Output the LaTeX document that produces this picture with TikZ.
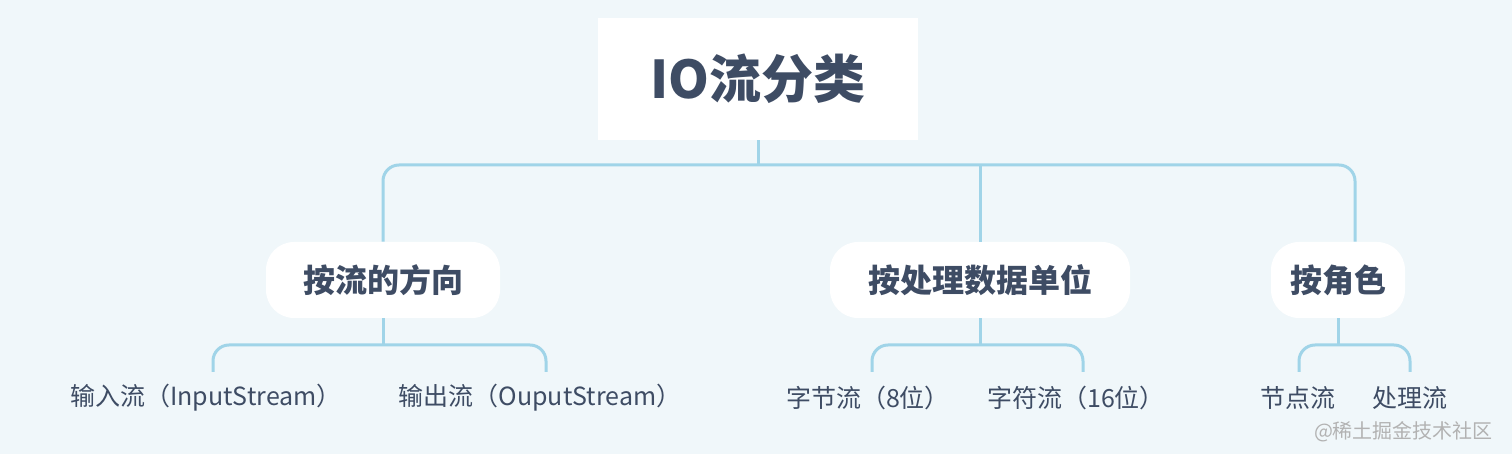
\documentclass[tikz,border=0pt]{standalone}
\usepackage{fontspec}
\setmainfont{Noto Sans CJK SC}
\begin{document}
\begin{tikzpicture}[x=0.5pt,y=-0.5pt,
  line/.style={draw=lineblue,line width=1.5pt,rounded corners=8pt},
  sline/.style={draw=lineblue,line width=1.5pt},
  root/.style={fill=white,text=txt,font=\fontsize{26}{30}\selectfont\bfseries,minimum width=160pt,minimum height=61pt},
  mid/.style={fill=white,text=txt,font=\fontsize{16}{20}\selectfont\bfseries,minimum height=38pt,rounded corners=14pt},
  leaf/.style={text=txt,font=\fontsize{12.5}{15}\selectfont,inner sep=1pt}]
\definecolor{bg}{RGB}{240,247,250}
\definecolor{lineblue}{RGB}{160,212,232}
\definecolor{txt}{RGB}{62,76,100}
\fill[bg] (0,0) rectangle (1512,454);
\useasboundingbox (0,0) rectangle (1512,454);
\node[root] (r) at (758,79) {IO流分类};
\node[mid,minimum width=117pt] (a) at (383,280) {按流的方向};
\node[mid,minimum width=150pt] (b) at (980,280) {按处理数据单位};
\node[mid,minimum width=67pt] (c) at (1338,280) {按角色};
\node[leaf] (a1) at (206,398) {输入流（InputStream）};
\node[leaf] (a2) at (540,398) {输出流（OuputStream）};
\node[leaf] (b1) at (868,398) {字节流（8位）};
\node[leaf] (b2) at (1076,398) {字符流（16位）};
\node[leaf] (c1) at (1298,398) {节点流};
\node[leaf] (c2) at (1410,398) {处理流};
\node[text=gray!60,font=\fontsize{10}{12}\selectfont,anchor=east] (wm) at (1500,432) {@稀土掘金技术社区};
\coordinate (ca) at (c.north -| 1355,0);
\draw[sline] (r.south) -- (758,165);
\draw[line] (a.north) |- (758,165) -| (ca);
\draw[sline] (b.north) -- (980,165);
\draw[sline] (a.south) -- (383,345);
\draw[line] (213,372) |- (383,345) -| (546,372);
\draw[sline] (b.south) -- (980,345);
\draw[line] (872,372) |- (980,345) -| (1083,372);
\draw[sline] (c.south) -- (1338,345);
\draw[line] (1299,372) |- (1338,345) -| (1410,372);
\end{tikzpicture}
\end{document}
